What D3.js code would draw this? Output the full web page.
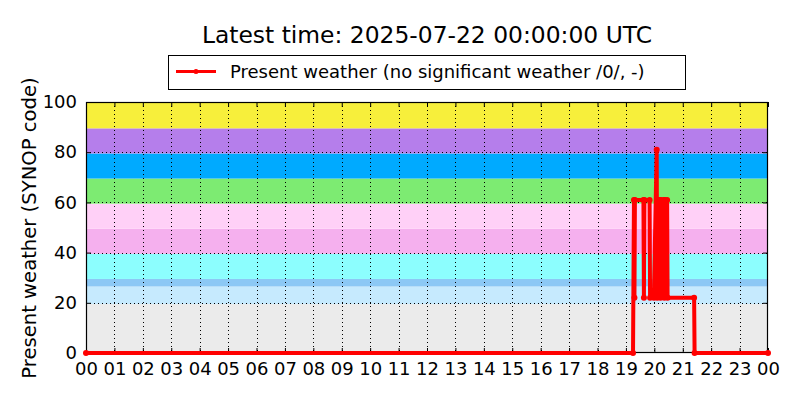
<!DOCTYPE html>
<html><head><meta charset="utf-8">
<script src="https://cdn.jsdelivr.net/npm/d3@7"></script>
<style>body{margin:0;background:#fff}svg{display:block}text{font-family:"DejaVu Sans",sans-serif}</style>
</head><body><svg id="c" width="800" height="400"></svg>
<script>
const titleText = "Latest time: 2025-07-22 00:00:00 UTC";
const seriesName = "Present weather (no significant weather /0/, -)";
const yLabel = "Present weather (SYNOP code)";
const startDay = "2025-07-21T00:00:00Z";
// observation times (HH:MM, hours may reach 24) and SYNOP codes
const obsTimes = ["00:00","19:15","19:17","19:18","19:19","19:37","19:38","19:39","19:50","19:51","19:59","20:05","20:06","20:07","20:12","20:13","20:14","20:20","20:21","20:22","20:27","20:28","21:24","21:25","24:00"];
const obsValues = [0,0,61,22,61,61,22,61,61,22,22,81,22,61,61,22,61,61,22,61,61,22,22,0,0];
// background bands: lower, upper, colour
const bandLow = [0,19.5,26.5,29.5,39.5,49.5,59.5,69.5,79.5,89.5];
const bandHigh = [19.5,26.5,29.5,39.5,49.5,59.5,69.5,79.5,89.5,100];
const bandColor = ["#ebebeb","#c6eafe","#8cc8f5","#8cfefe","#f5b0ee","#ffd0f7","#7deb72","#00aaff","#b57eeb","#f7ef3b"];
const yTicks = [0,20,40,60,80,100];
const xTickLabels = ["00","01","02","03","04","05","06","07","08","09","10","11","12","13","14","15","16","17","18","19","20","21","22","23","00"];

const svg = d3.select("#c");
const m = {l:86, r:768, t:102, b:353};
const t0 = new Date(startDay);
const toDate = s => { const [h,mm] = s.split(":").map(Number); return new Date(t0.getTime() + (h*60+mm)*60000); };
const x = d3.scaleUtc().domain([t0, new Date(t0.getTime()+24*3600000)]).range([m.l, m.r]);
const y = d3.scaleLinear().domain([0,100]).range([m.b, m.t]);

// bands
svg.append("g").selectAll("rect").data(bandLow).join("rect")
  .attr("x", m.l).attr("width", m.r-m.l)
  .attr("y", (d,i)=>y(bandHigh[i])).attr("height",(d,i)=>y(d)-y(bandHigh[i]))
  .attr("fill",(d,i)=>bandColor[i]);

const xTickDates = xTickLabels.map((d,i)=>new Date(t0.getTime()+i*3600000));
// grid
const grid = svg.append("g").attr("stroke","#000").attr("stroke-width",1).attr("stroke-dasharray","1,3");
grid.selectAll("line.gx").data(xTickDates.slice(1,-1)).join("line")
  .attr("x1",d=>Math.round(x(d))+0.5).attr("x2",d=>Math.round(x(d))+0.5).attr("y1",m.t).attr("y2",m.b);
grid.selectAll("line.gy").data(yTicks.slice(1,-1)).join("line")
  .attr("y1",d=>Math.round(y(d))+0.5).attr("y2",d=>Math.round(y(d))+0.5).attr("x1",m.l).attr("x2",m.r);

// axes
const xAxis = d3.axisBottom(x).tickValues(xTickDates).tickFormat((d,i)=>xTickLabels[i]).tickSizeInner(-5).tickSizeOuter(0).tickPadding(9);
const gx = svg.append("g").attr("transform",`translate(0,${m.b})`).call(xAxis);
gx.select(".domain").remove();
gx.selectAll("text").attr("font-size",18).attr("fill","#000");
const gxTop = svg.append("g").attr("transform",`translate(0,${m.t})`).call(d3.axisTop(x).tickValues(xTickDates).tickSizeInner(-5).tickSizeOuter(0).tickFormat(""));
gxTop.select(".domain").remove();
const yAxis = d3.axisLeft(y).tickValues(yTicks).tickSizeInner(-5).tickSizeOuter(0).tickPadding(9);
const gy = svg.append("g").attr("transform",`translate(${m.l},0)`).call(yAxis);
gy.select(".domain").remove();
gy.selectAll("text").attr("font-size",18).attr("fill","#000");
const gyR = svg.append("g").attr("transform",`translate(${m.r},0)`).call(d3.axisRight(y).tickValues(yTicks).tickSizeInner(-5).tickSizeOuter(0).tickFormat(""));
gyR.select(".domain").remove();

// frame
svg.append("rect").attr("x",m.l+0.5).attr("y",m.t+0.5).attr("width",m.r-m.l-1).attr("height",m.b-m.t-1)
  .attr("fill","none").attr("stroke","#000").attr("stroke-width",1.2);

// data line
const pts = obsTimes.map((t,i)=>({d:toDate(t), v:obsValues[i]}));
const line = d3.line().x(p=>x(p.d)).y(p=>y(p.v));
svg.append("path").datum(pts).attr("d",line).attr("fill","none").attr("stroke","#ff0000").attr("stroke-width",4).attr("stroke-linejoin","round");
svg.append("g").selectAll("circle").data(pts).join("circle")
  .attr("cx",p=>x(p.d)).attr("cy",p=>y(p.v)).attr("r",3).attr("fill","#ff0000");

// title
svg.append("text").attr("x",427).attr("y",43).attr("text-anchor","middle").attr("font-size",23.4).text(titleText);
// legend
svg.append("rect").attr("x",168.5).attr("y",55.5).attr("width",517).attr("height",34).attr("fill","#fff").attr("stroke","#000").attr("stroke-width",1);
svg.append("line").attr("x1",176).attr("x2",216).attr("y1",71.5).attr("y2",71.5).attr("stroke","#ff0000").attr("stroke-width",3);
svg.append("circle").attr("cx",196).attr("cy",71.5).attr("r",2.5).attr("fill","#ff0000");
svg.append("text").attr("x",230).attr("y",78).attr("font-size",18).text(seriesName);
// y label
svg.append("text").attr("transform","translate(36,228) rotate(-90)").attr("text-anchor","middle").attr("font-size",19.6).text(yLabel);
</script></body></html>
